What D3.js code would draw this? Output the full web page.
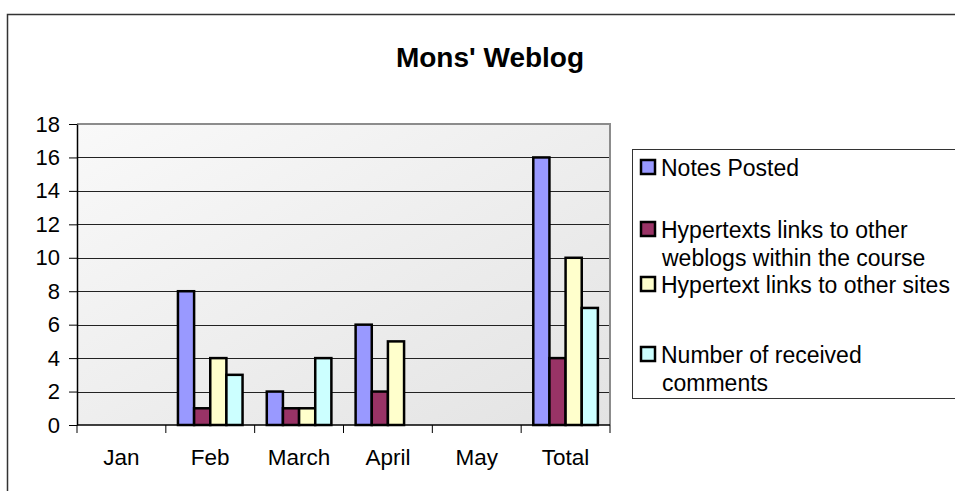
<!DOCTYPE html>
<html>
<head>
<meta charset="utf-8">
<script src="https://cdn.jsdelivr.net/npm/d3@7"></script>
<style>
  html, body { margin: 0; padding: 0; background: #fff; }
  svg { display: block; font-family: "Liberation Sans", Arial, sans-serif; }
</style>
</head>
<body>
<svg id="chart"></svg>
<script>
const categories = ['Jan', 'Feb', 'March', 'April', 'May', 'Total'];
const seriesNames = [
    'Notes Posted',
    'Hypertexts links to other weblogs within the course',
    'Hypertext links to other sites',
    'Number of received comments'
];
const legendLines = [
    ['Notes Posted'],
    ['Hypertexts links to other', 'weblogs within the course'],
    ['Hypertext links to other sites'],
    ['Number of received', 'comments']
];
const notesPosted = [0, 8, 2, 6, 0, 16];
const linksWithin = [0, 1, 1, 2, 0, 4];
const linksOther = [0, 4, 1, 5, 0, 10];
const comments = [0, 3, 4, 0, 0, 7];
const seriesColors = ['#9999ff', '#993366', '#ffffcc', '#ccffff'];
const yTicks = [0, 2, 4, 6, 8, 10, 12, 14, 16, 18];

const values = [notesPosted, linksWithin, linksOther, comments];
const width = 955, height = 491;
const plot = { left: 77, top: 124, right: 610, bottom: 425 };

const svg = d3.select('#chart')
    .attr('width', width)
    .attr('height', height);

// outer chart frame (runs off the right and bottom edges)
svg.append('rect')
    .attr('x', 7.5).attr('y', 14.5)
    .attr('width', 1000).attr('height', 600)
    .attr('fill', '#fff')
    .attr('stroke', '#333')
    .attr('stroke-width', 1.5);

svg.append('text')
    .attr('x', 490).attr('y', 67)
    .attr('text-anchor', 'middle')
    .attr('font-size', 28)
    .attr('font-weight', 'bold')
    .text("Mons' Weblog");

const defs = svg.append('defs');
const grad = defs.append('linearGradient')
    .attr('id', 'plotBg')
    .attr('x1', '0').attr('y1', '0').attr('x2', '1').attr('y2', '1');
grad.append('stop').attr('offset', '0%').attr('stop-color', '#f9f9f9');
grad.append('stop').attr('offset', '100%').attr('stop-color', '#e3e3e3');

const x0 = d3.scaleBand()
    .domain(categories)
    .range([plot.left, plot.right]);

const bw = x0.bandwidth();
const gap = bw * 1.5 / 5.5;
const x1 = d3.scaleBand()
    .domain(d3.range(seriesNames.length))
    .range([gap / 2, bw - gap / 2]);

const y = d3.scaleLinear()
    .domain([0, 18])
    .range([plot.bottom, plot.top]);

// plot background
svg.append('rect')
    .attr('x', plot.left).attr('y', plot.top)
    .attr('width', plot.right - plot.left)
    .attr('height', plot.bottom - plot.top)
    .attr('fill', 'url(#plotBg)');

// gridlines
svg.append('g')
    .selectAll('line')
    .data(yTicks.filter(t => t > 0 && t < 18))
    .enter()
    .append('line')
    .attr('x1', plot.left).attr('x2', plot.right)
    .attr('y1', d => Math.round(y(d)) + 0.5)
    .attr('y2', d => Math.round(y(d)) + 0.5)
    .attr('stroke', '#222')
    .attr('stroke-width', 1.2);

// gray top and right plot border
svg.append('path')
    .attr('d', `M${plot.left},${plot.top} H${plot.right} V${plot.bottom}`)
    .attr('fill', 'none')
    .attr('stroke', '#8c8c8c')
    .attr('stroke-width', 2);

// bars
const groups = svg.append('g')
    .selectAll('g')
    .data(categories)
    .enter()
    .append('g')
    .attr('transform', d => `translate(${x0(d)},0)`);

groups.selectAll('rect')
    .data((c, ci) => values.map((v, si) => ({ si, v: v[ci] })).filter(d => d.v > 0))
    .enter()
    .append('rect')
    .attr('x', d => x1(d.si))
    .attr('y', d => y(d.v))
    .attr('width', x1.bandwidth())
    .attr('height', d => y(0) - y(d.v))
    .attr('fill', d => seriesColors[d.si])
    .attr('stroke', '#000')
    .attr('stroke-width', 2.5);

// y axis
const yAxis = d3.axisLeft(y)
    .tickValues(yTicks)
    .tickSize(8)
    .tickPadding(9)
    .tickSizeOuter(0);

const yg = svg.append('g')
    .attr('transform', `translate(${plot.left},0)`)
    .call(yAxis);
yg.select('.domain').attr('stroke', '#000').attr('stroke-width', 1.5);
yg.selectAll('.tick line').attr('stroke', '#000');
yg.selectAll('.tick text')
    .attr('font-size', 22)
    .attr('font-family', '"Liberation Sans", Arial, sans-serif')
    .attr('fill', '#000');

// x axis with ticks at category boundaries
const xg = svg.append('g');
xg.append('line')
    .attr('x1', plot.left).attr('x2', plot.right)
    .attr('y1', plot.bottom).attr('y2', plot.bottom)
    .attr('stroke', '#000')
    .attr('stroke-width', 1.5);
xg.selectAll('line.tk')
    .data(categories.concat(['end']))
    .enter()
    .append('line')
    .attr('class', 'tk')
    .attr('x1', (d, i) => plot.left + i * bw)
    .attr('x2', (d, i) => plot.left + i * bw)
    .attr('y1', plot.bottom).attr('y2', plot.bottom + 8)
    .attr('stroke', '#000');
xg.selectAll('text')
    .data(categories)
    .enter()
    .append('text')
    .attr('x', d => x0(d) + bw / 2)
    .attr('y', 465)
    .attr('text-anchor', 'middle')
    .attr('font-size', 22.5)
    .text(d => d);

// legend
const legend = svg.append('g');
legend.append('rect')
    .attr('x', 632.5).attr('y', 149.5)
    .attr('width', 400).attr('height', 249)
    .attr('fill', '#fff')
    .attr('stroke', '#333')
    .attr('stroke-width', 1);

const legendBaselines = [176, 238, 293, 363];
const items = legend.selectAll('g.item')
    .data(seriesNames)
    .enter()
    .append('g')
    .attr('class', 'item')
    .attr('transform', (d, i) => `translate(0,${legendBaselines[i]})`);

items.append('rect')
    .attr('x', 641).attr('y', -16)
    .attr('width', 14).attr('height', 14)
    .attr('fill', (d, i) => seriesColors[i])
    .attr('stroke', '#000')
    .attr('stroke-width', 2.5);

items.each(function(d, i) {
    const t = d3.select(this).append('text')
        .attr('font-size', 23);
    legendLines[i].forEach((line, li) => {
        t.append('tspan')
            .attr('x', li === 0 ? 661 : 662)
            .attr('y', li * 28)
            .text(line);
    });
});
</script>
</body>
</html>
